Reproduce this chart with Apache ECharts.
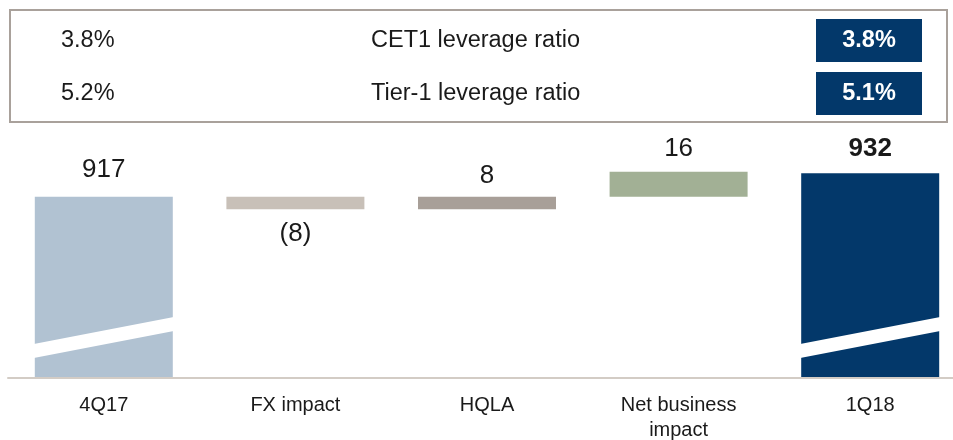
<!DOCTYPE html>
<html>
<head>
<meta charset="utf-8">
<script src="https://cdn.jsdelivr.net/npm/echarts@6/dist/echarts.min.js"></script>
<style>
  html, body { margin: 0; padding: 0; background: #fff; }
  #chart { width: 953px; height: 440px; }
</style>
</head>
<body>
<div id="chart"></div>
<script>
// leverage exposure walk, 4Q17 -> 1Q18
const categories = ['4Q17', 'FX impact', 'HQLA', 'Net business\nimpact', '1Q18']
const values = [917, -8, 8, 16, 932]
const valueLabels = ['917', '(8)', '8', '16', '932']
const isTotal = [true, false, false, false, true]
const barColors = ['#b1c2d2', '#c8c0b8', '#a89f98', '#a2b095', '#03386a']

// ratio box on top
const ratioNames = ['CET1 leverage ratio', 'Tier-1 leverage ratio']
const ratioPrev = ['3.8%', '5.2%']
const ratioCurr = ['3.8%', '5.1%']

const FONT = '"Liberation Sans", Arial, Helvetica, sans-serif'
const AXIS_MIN = 801
const AXIS_MAX = 961
const BAR_W = 138

// running totals for the waterfall
const baseData = []
const barData = []
let running = 0
values.forEach((v, i) => {
  if (isTotal[i]) {
    baseData.push(0)
    barData.push(v)
    running = v
  } else {
    const lo = v < 0 ? running + v : running
    baseData.push(lo)
    barData.push(Math.abs(v))
    running += v
  }
})

const labelDist = [14, 12, 8, 10, 11]

const chart = echarts.init(document.getElementById('chart'))

const graphic = [
  {
    type: 'rect',
    shape: { x: 10, y: 10, width: 937, height: 112 },
    style: { fill: 'none', stroke: '#a9a19b', lineWidth: 2 }
  }
]
const rowY = [41, 94]
ratioNames.forEach((name, i) => {
  graphic.push({
    type: 'text', x: 61, y: rowY[i],
    style: { text: ratioPrev[i], font: '23.5px ' + FONT, fill: '#1a1a1a', verticalAlign: 'middle' }
  })
  graphic.push({
    type: 'text', x: 371, y: rowY[i],
    style: { text: name, font: '23.5px ' + FONT, fill: '#1a1a1a', verticalAlign: 'middle' }
  })
  graphic.push({
    type: 'rect',
    shape: { x: 816, y: rowY[i] - 22, width: 106, height: 43 },
    style: { fill: '#03386a' }
  })
  graphic.push({
    type: 'text', x: 869, y: rowY[i],
    style: { text: ratioCurr[i], font: 'bold 23.5px ' + FONT, fill: '#fff', align: 'center', verticalAlign: 'middle' }
  })
})

const option = {
  animation: false,
  backgroundColor: '#fff',
  graphic: graphic,
  grid: { left: 8, width: 958, top: 128, bottom: 62, containLabel: false, outerBoundsMode: 'none' },
  xAxis: {
    type: 'category',
    data: categories,
    axisLine: { show: true, lineStyle: { color: '#d3ccc5', width: 2 } },
    axisTick: { show: false },
    axisLabel: {
      color: '#1a1a1a', fontFamily: FONT, fontSize: 20, lineHeight: 25, margin: 15,
      interval: 0
    },
    z: 5
  },
  yAxis: {
    type: 'value', min: AXIS_MIN, max: AXIS_MAX, show: false,
    splitLine: { show: false }
  },
  series: [
    {
      type: 'bar', stack: 'w', barWidth: BAR_W,
      itemStyle: { color: 'transparent' },
      data: baseData,
      silent: true
    },
    {
      type: 'bar', stack: 'w', barWidth: BAR_W,
      data: barData.map((v, i) => ({
        value: v,
        itemStyle: { color: barColors[i] },
        label: {
          show: true,
          position: values[i] < 0 ? 'bottom' : 'top',
          distance: labelDist[i],
          formatter: valueLabels[i],
          fontFamily: FONT,
          fontSize: 26,
          fontWeight: i === values.length - 1 ? 'bold' : 'normal',
          color: '#1a1a1a'
        }
      }))
    },
    {
      // axis break marks across the total bars
      type: 'custom',
      silent: true,
      z: 4,
      data: categories.map((c, i) => isTotal[i] ? [i, 827] : null).filter(d => d),
      renderItem: (params, api) => {
        const p = api.coord([api.value(0), api.value(1)])
        const hw = BAR_W / 2 + 1
        const rise = 13.5
        const th = 7
        return {
          type: 'polygon',
          shape: {
            points: [
              [p[0] - hw, p[1] + rise - th],
              [p[0] + hw, p[1] - rise - th],
              [p[0] + hw, p[1] - rise + th],
              [p[0] - hw, p[1] + rise + th]
            ]
          },
          style: { fill: '#fff' }
        }
      }
    }
  ]
}

chart.setOption(option)
</script>
</body>
</html>
